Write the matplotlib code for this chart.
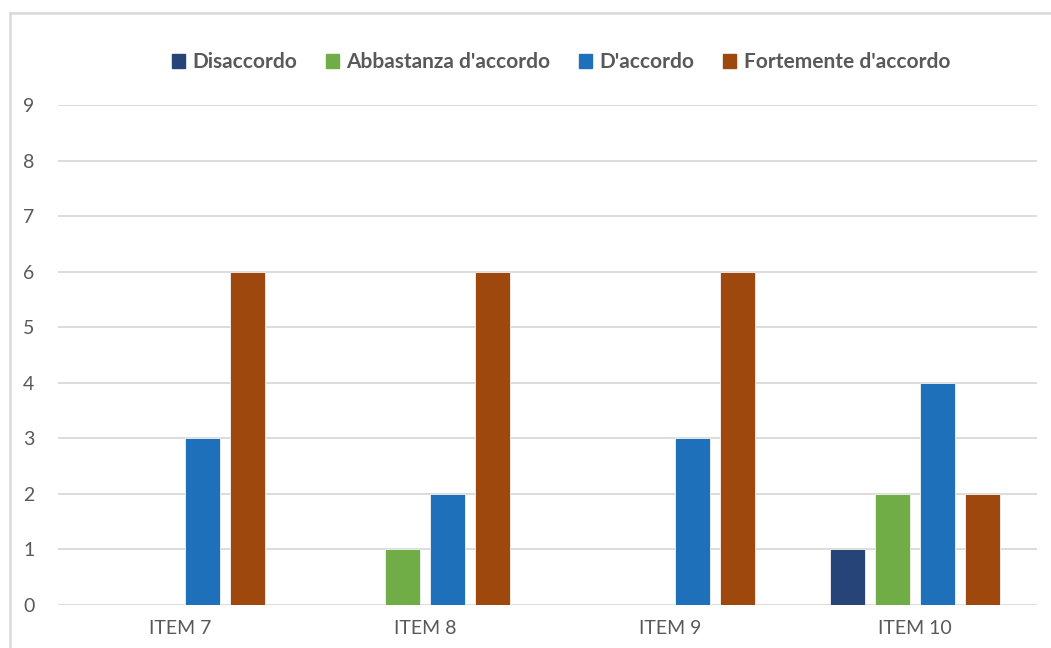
import matplotlib.pyplot as plt
import numpy as np
from matplotlib.lines import Line2D

categories = ["ITEM 7", "ITEM 8", "ITEM 9", "ITEM 10"]
series_names = ["Disaccordo", "Abbastanza d'accordo", "D'accordo", "Fortemente d'accordo"]
disaccordo = [0, 0, 0, 1]
abbastanza = [0, 1, 0, 2]
daccordo = [3, 2, 3, 4]
fortemente = [6, 6, 6, 2]
yticks = list(range(0, 10))

colors = ["#264478", "#70AD47", "#1F70BA", "#9E480E"]
series = [disaccordo, abbastanza, daccordo, fortemente]

plt.rcParams['font.family'] = ['Lato', 'DejaVu Sans']

W, H = 1051, 648
fig = plt.figure(figsize=(W / 100, H / 100), dpi=100)
ax = fig.add_axes([58 / W, 1 - 605 / H, 979 / W, 500 / H])

x = np.arange(len(categories))
step = 0.184
width = 0.143
for i, (vals, name, c) in enumerate(zip(series, series_names, colors)):
    ax.bar(x + (i - 1.5) * step, vals, width, color=c, label=name,
           edgecolor="#f2f2f2", linewidth=0.6, zorder=3)

ax.set_xlim(-0.5, len(categories) - 0.5)
ax.set_ylim(0, 9)
ax.set_yticks(yticks)
ax.set_xticks(x)
ax.set_xticklabels(categories)
ax.grid(axis='y', color='#d9d9d9', linewidth=1.3, zorder=0)
for s in ax.spines.values():
    s.set_visible(False)
ax.tick_params(axis='both', length=0, labelsize=14, colors='#595959')
ax.tick_params(axis='y', pad=17)
ax.tick_params(axis='x', pad=11)

handles = [plt.Rectangle((0, 0), 1, 1, color=c) for c in colors]
leg = fig.legend(handles, series_names, loc='center', bbox_to_anchor=(561 / W, 1 - 62 / H),
                 ncol=4, frameon=False, handlelength=0.65, handleheight=0.65,
                 handletextpad=0.35, columnspacing=1.35,
                 prop={'size': 15, 'weight': 'bold'})
for t in leg.get_texts():
    t.set_color('#595959')

# outer chart frame (top and left edges)
fig.add_artist(Line2D([10 / W, 1.0], [1 - 13 / H, 1 - 13 / H], color='#d9d9d9', linewidth=1.8,
                      transform=fig.transFigure))
fig.add_artist(Line2D([10 / W, 10 / W], [0, 1 - 13 / H], color='#d9d9d9', linewidth=1.8,
                      transform=fig.transFigure))

fig.savefig("out.png", dpi=100, facecolor='white')
